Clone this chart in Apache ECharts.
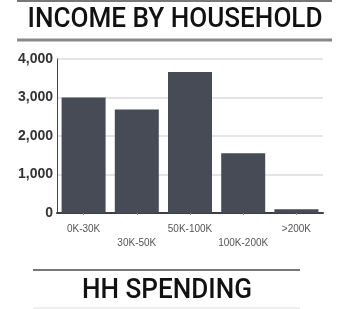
<!DOCTYPE html>
<html>
<head>
<meta charset="utf-8">
<script src="https://cdn.jsdelivr.net/npm/echarts@6/dist/echarts.min.js"></script>
<style>
  html, body { margin: 0; padding: 0; background: #fff; }
  #main { width: 341px; height: 309px; }
</style>
</head>
<body>
<div id="main"></div>
<script>
// data
const categories = ['0K-30K', '30K-50K', '50K-100K', '100K-200K', '>200K'];
const households = [3000, 2690, 3660, 1550, 100];
const yTicks = [0, 1000, 2000, 3000, 4000];

const myChart = echarts.init(document.getElementById('main'));

// squeeze a heading into a given width (condensed look)
const ctx = document.createElement('canvas').getContext('2d');
function fitScale(text, font, width) {
  ctx.font = font;
  return width / ctx.measureText(text).width;
}
const titleFont = '500 28px Roboto';
const subFont = '500 27px Roboto';

const option = {
  backgroundColor: '#fff',
  animation: false,
  grid: { left: 57, right: 18, top: 59, bottom: 96 },
  xAxis: {
    type: 'category',
    data: categories,
    axisLine: { lineStyle: { color: '#3c3f46', width: 2 } },
    axisTick: { show: true, alignWithLabel: true, length: 2, lineStyle: { color: '#888' } },
    axisLabel: {
      interval: 0,
      color: '#555',
      fontFamily: 'Liberation Sans',
      fontSize: 10,
      margin: 9,
      lineHeight: 14,
      formatter: function (v, i) { return i % 2 ? '\n' + v : v; }
    }
  },
  yAxis: {
    type: 'value',
    min: yTicks[0],
    max: yTicks[yTicks.length - 1],
    interval: 1000,
    axisLine: { show: true, lineStyle: { color: '#444', width: 1 } },
    axisTick: { show: false },
    splitLine: { lineStyle: { color: '#e4e4e4', width: 2 } },
    axisLabel: {
      color: '#333',
      fontFamily: 'Liberation Sans',
      fontWeight: 'bold',
      fontSize: 14,
      margin: 4,
      formatter: function (v) { return v.toLocaleString('en-US'); }
    }
  },
  series: [{
    type: 'bar',
    data: households,
    barWidth: 44,
    itemStyle: { color: '#464b56' }
  }],
  graphic: [
    { type: 'line', shape: { x1: 17, y1: 1, x2: 332, y2: 1 }, style: { stroke: '#777', lineWidth: 2 } },
    {
      type: 'text', x: 175, y: 20, scaleX: fitScale('INCOME BY HOUSEHOLD', titleFont, 295),
      style: { text: 'INCOME BY HOUSEHOLD', font: titleFont, fill: '#111', textAlign: 'center', textVerticalAlign: 'middle' }
    },
    { type: 'line', shape: { x1: 17, y1: 40, x2: 332, y2: 40 }, style: { stroke: '#888', lineWidth: 3 } },
    { type: 'line', shape: { x1: 33, y1: 270, x2: 300, y2: 270 }, style: { stroke: '#777', lineWidth: 2 } },
    {
      type: 'text', x: 167, y: 291, scaleX: fitScale('HH SPENDING', subFont, 170),
      style: { text: 'HH SPENDING', font: subFont, fill: '#111', textAlign: 'center', textVerticalAlign: 'middle' }
    },
    { type: 'line', shape: { x1: 33, y1: 308, x2: 300, y2: 308 }, style: { stroke: '#ddd', lineWidth: 1 } }
  ]
};

myChart.setOption(option);
</script>
</body>
</html>
